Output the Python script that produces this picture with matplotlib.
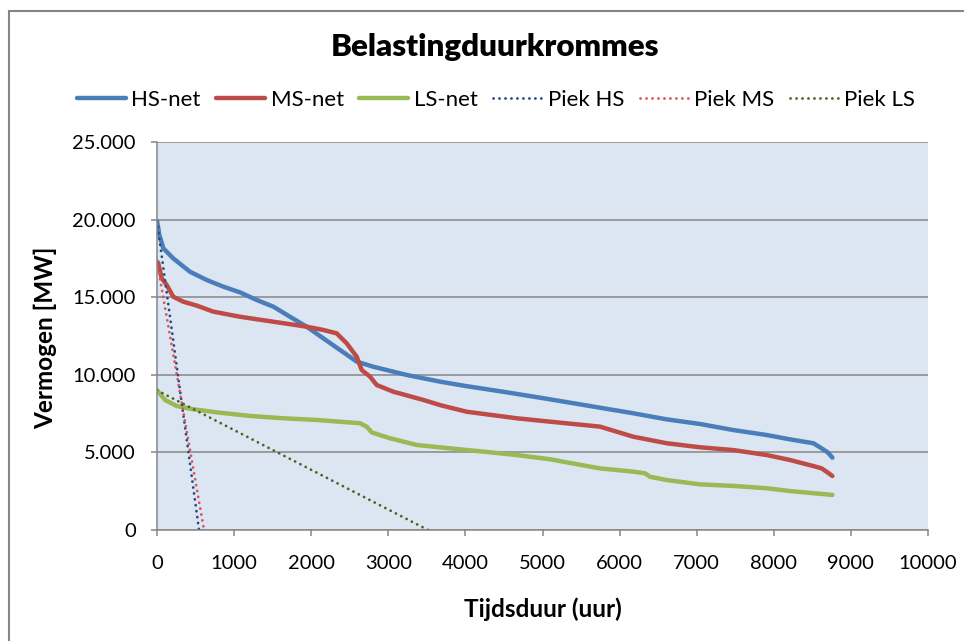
import matplotlib
matplotlib.use("Agg")
import matplotlib.pyplot as plt
from matplotlib.patches import Rectangle
from matplotlib.ticker import FuncFormatter, MultipleLocator

plt.rcParams['font.family'] = ['Lato', 'DejaVu Sans']

# Belastingduurkrommes (uren gesorteerd op vermogen)
hs_uren = [0, 15, 30, 50, 82, 211, 428, 644, 860, 1077, 1293, 1510, 1725, 1941,
           2157, 2374, 2590, 2806, 3066, 3238, 3670, 4000, 4500, 5000, 5746,
           6178, 6611, 7043, 7475, 7908, 8210, 8513, 8621, 8700, 8760]
hs_mw = [19900, 19500, 19000, 18700, 18150, 17500, 16640, 16110, 15680, 15310,
         14820, 14390, 13740, 13100, 12350, 11600, 10850, 10520, 10200, 9990,
         9560, 9280, 8900, 8500, 7880, 7520, 7130, 6830, 6440, 6120, 5840, 5590,
         5260, 5000, 4660]

ms_uren = [0, 17, 61, 126, 211, 341, 515, 730, 1077, 1510, 1941, 2157, 2330,
           2460, 2590, 2655, 2763, 2850, 3066, 3455, 3670, 4017, 4665, 5097,
           5746, 6178, 6611, 7043, 7475, 7908, 8210, 8513, 8621, 8700, 8760]
ms_mw = [17300, 17180, 16220, 15790, 15030, 14710, 14460, 14070, 13740, 13420,
         13100, 12890, 12670, 12030, 11170, 10310, 9880, 9340, 8910, 8380, 8050,
         7620, 7200, 6980, 6660, 6010, 5590, 5330, 5150, 4830, 4510, 4120, 3970,
         3700, 3480]

ls_uren = [0, 17, 104, 255, 471, 774, 1206, 1638, 2071, 2633, 2720, 2785, 3022,
           3368, 3800, 4232, 4665, 5097, 5500, 5746, 6178, 6330, 6394, 6611,
           7043, 7475, 7908, 8210, 8760]
ls_mw = [9000, 8910, 8380, 7990, 7780, 7580, 7350, 7200, 7090, 6880, 6660, 6290,
         5910, 5480, 5260, 5050, 4830, 4560, 4190, 3970, 3760, 3650, 3430, 3220,
         2940, 2840, 2690, 2510, 2260]

# Piek-lijnen: van piekvermogen naar nul
piek_hs_uren = [0, 545]
piek_hs_mw = [19900, 0]
piek_ms_uren = [0, 610]
piek_ms_mw = [17300, 0]
piek_ls_uren = [0, 3515]
piek_ls_mw = [9000, 0]

grijs = '#868686'

fig = plt.figure(figsize=(9.64, 6.41), dpi=100)
ax = fig.add_axes([157 / 964, 1 - 530 / 641, 771 / 964, 388 / 641])
ax.set_facecolor('#DCE6F2')

ax.plot(hs_uren, hs_mw, color='#4A7EBB', lw=3.2, label='HS-net', solid_capstyle='round')
ax.plot(ms_uren, ms_mw, color='#BE4B48', lw=3.2, label='MS-net', solid_capstyle='round')
ax.plot(ls_uren, ls_mw, color='#98B954', lw=3.2, label='LS-net', solid_capstyle='round')
dots = (0, (0.05, 2.1))
ax.plot(piek_hs_uren, piek_hs_mw, color='#254C80', lw=2, ls=dots, dash_capstyle='round', label='Piek HS')
ax.plot(piek_ms_uren, piek_ms_mw, color='#D9545A', lw=2, ls=dots, dash_capstyle='round', label='Piek MS')
ax.plot(piek_ls_uren, piek_ls_mw, color='#4F6228', lw=2, ls=dots, dash_capstyle='round', label='Piek LS')

ax.set_xlim(0, 10000)
ax.set_ylim(0, 25000)
ax.xaxis.set_major_locator(MultipleLocator(1000))
ax.yaxis.set_major_locator(MultipleLocator(5000))
ax.yaxis.set_major_formatter(FuncFormatter(lambda v, p: f"{int(v):,}".replace(",", ".")))
ax.grid(axis='y', color=grijs, lw=1.1)
ax.set_axisbelow(True)
for s in ['top', 'right']:
    ax.spines[s].set_visible(False)
for s in ['left', 'bottom']:
    ax.spines[s].set_color(grijs)
    ax.spines[s].set_linewidth(1.1)
ax.tick_params(axis='y', length=4.3, width=1.1, color=grijs, pad=11, labelsize=14.5)
ax.tick_params(axis='x', length=4.3, width=1.1, color=grijs, pad=14, labelsize=14.5)

fig.text(0.513, 1 - 47 / 641, 'Belastingduurkrommes', ha='center', va='center',
         fontsize=22.5, fontweight='heavy')
fig.text(543 / 964, 1 - 609 / 641, 'Tijdsduur (uur)', ha='center', va='center',
         fontsize=17.5, fontweight='bold')
fig.text(45 / 964, 1 - 338 / 641, 'Vermogen [MW]', ha='center', va='center',
         rotation=90, fontsize=17.5, fontweight='bold')

fig.legend(loc='center', bbox_to_anchor=(496 / 964, 1 - 100 / 641), ncol=6,
           frameon=False, fontsize=16, handlelength=2.2, handletextpad=0.25,
           columnspacing=0.7)

fig.patches.append(Rectangle((8.5 / 964, -0.1), 1.2, 1 - 10.5 / 641 + 0.1,
                             transform=fig.transFigure, fill=False,
                             edgecolor=grijs, lw=1.5))

fig.savefig('out.png', dpi=100)
